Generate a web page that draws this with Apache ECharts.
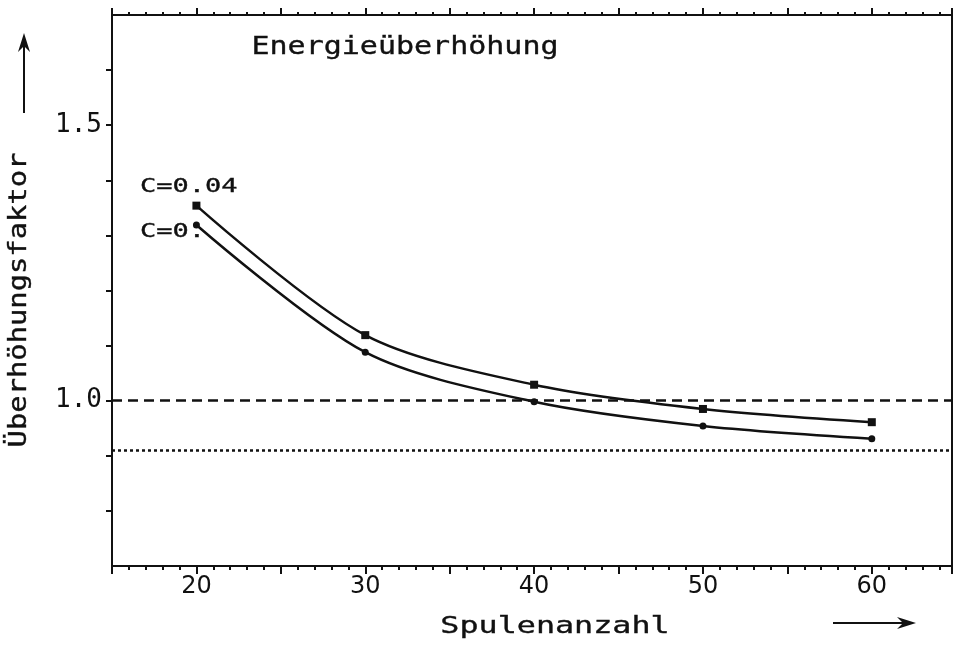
<!DOCTYPE html>
<html>
<head>
<meta charset="utf-8">
<script src="https://cdn.jsdelivr.net/npm/echarts@6/dist/echarts.min.js"></script>
<style>
  html, body { margin: 0; padding: 0; background: #fff; }
  #chart { width: 953px; height: 645px; }
</style>
</head>
<body>
<div id="chart"></div>
<script>
// Spulenanzahl (x) und Überhöhungsfaktor (y)
const spulen = [20, 30, 40, 50, 60]
const faktorC004 = [1.354, 1.119, 1.029, 0.985, 0.961]
const faktorC0 = [1.319, 1.088, 0.998, 0.954, 0.931]
const yLabelTicks = [1.0, 1.5]
const xLabelTicks = [20, 30, 40, 50, 60]
const refDashed = 1.0
const refDotted = 0.905

const chart = echarts.init(document.getElementById('chart'))
const mono = 'DejaVu Sans Mono'
const ink = '#111'

const toPairs = (ys) => spulen.map((x, i) => [x, ys[i]])

const xBase = {
  type: 'value',
  min: 15,
  max: 64.75,
  interval: 5,
  splitLine: { show: false },
  axisLine: { show: true, onZero: false, lineStyle: { color: ink, width: 2 } },
  axisTick: { show: true, inside: false, length: 8, lineStyle: { color: ink, width: 2 } },
  minorTick: { show: true, splitNumber: 5, length: 4, lineStyle: { color: ink, width: 2 } }
}

// Text leicht verstärkt, wie beim Plotter
const txt = (size) => ({ font: size + 'px "DejaVu Sans Mono"', fill: ink, stroke: ink, lineWidth: 0.35 })

const option = {
  animation: false,
  backgroundColor: '#fff',
  grid: { left: 112, right: 1, top: 15, bottom: 79, outerBoundsMode: 'none' },
  xAxis: [
    Object.assign({}, xBase, {
      position: 'bottom',
      axisLabel: {
        show: true,
        margin: 9,
        color: ink,
        fontFamily: 'DejaVu Sans',
        fontSize: 24,
        showMaxLabel: false,
        formatter: (v) => (xLabelTicks.includes(Math.round(v)) && Math.abs(v - Math.round(v)) < 1e-6 ? String(Math.round(v)) : '')
      }
    }),
    Object.assign({}, xBase, {
      position: 'top',
      axisTick: { show: true, inside: false, length: 7, lineStyle: { color: ink, width: 2 } },
      minorTick: { show: true, splitNumber: 5, length: 3, lineStyle: { color: ink, width: 2 } },
      axisLabel: { show: false }
    })
  ],
  yAxis: [
    {
      type: 'value',
      position: 'left',
      min: 0.7,
      max: 1.7,
      interval: 0.1,
      splitLine: { show: false },
      axisLine: { show: true, onZero: false, lineStyle: { color: ink, width: 2 } },
      axisTick: { show: true, inside: false, length: 6, lineStyle: { color: ink, width: 2 } },
      axisLabel: {
        show: true,
        margin: 10,
        color: ink,
        fontFamily: mono,
        fontSize: 26,
        showMinLabel: false,
        showMaxLabel: false,
        formatter: (v) => {
          const hit = yLabelTicks.find((t) => Math.abs(t - v) < 1e-6)
          return hit !== undefined ? hit.toFixed(1) : ''
        }
      }
    },
    {
      type: 'value',
      position: 'right',
      min: 0.7,
      max: 1.7,
      splitLine: { show: false },
      axisLine: { show: true, onZero: false, lineStyle: { color: ink, width: 2 } },
      axisTick: { show: false },
      axisLabel: { show: false }
    }
  ],
  series: [
    {
      name: 'C=0.04',
      type: 'line',
      smooth: 0.3,
      data: toPairs(faktorC004),
      symbol: 'rect',
      symbolSize: 8,
      itemStyle: { color: ink },
      lineStyle: { color: ink, width: 2.5 },
      markLine: {
        silent: true,
        symbol: 'none',
        label: { show: false },
        data: [
          { yAxis: refDashed, lineStyle: { color: ink, width: 2.5, type: [10, 6] } },
          { yAxis: refDotted, lineStyle: { color: ink, width: 2.5, type: [3, 3] } }
        ]
      }
    },
    {
      name: 'C=0.',
      type: 'line',
      smooth: 0.3,
      data: toPairs(faktorC0),
      symbol: 'circle',
      symbolSize: 7,
      itemStyle: { color: ink },
      lineStyle: { color: ink, width: 2.5 }
    }
  ],
  graphic: [
    {
      type: 'text', x: 405, y: 47, scaleX: 1.2,
      style: Object.assign({ text: 'Energieüberhöhung', textAlign: 'center', textVerticalAlign: 'middle' }, txt(25))
    },
    {
      type: 'text', x: 140, y: 187, scaleX: 1.35,
      style: Object.assign({ text: 'C=0.04', textAlign: 'left', textVerticalAlign: 'middle' }, txt(20))
    },
    {
      type: 'text', x: 140, y: 232, scaleX: 1.35,
      style: Object.assign({ text: 'C=0.', textAlign: 'left', textVerticalAlign: 'middle' }, txt(20))
    },
    {
      type: 'text', x: 20, y: 300, rotation: Math.PI / 2, scaleX: 1.2,
      style: Object.assign({ text: 'Überhöhungsfaktor', textAlign: 'center', textVerticalAlign: 'middle' }, txt(24))
    },
    {
      type: 'text', x: 555, y: 627, scaleX: 1.38,
      style: Object.assign({ text: 'Spulenanzahl', textAlign: 'center', textVerticalAlign: 'middle' }, txt(23))
    },
    // Pfeil an der y-Achse
    { type: 'line', shape: { x1: 24, y1: 113, x2: 24, y2: 44 }, style: { stroke: ink, lineWidth: 2 } },
    { type: 'polygon', shape: { points: [[24, 33], [18, 52], [24, 46], [30, 52]] }, style: { fill: ink } },
    // Pfeil an der x-Achse
    { type: 'line', shape: { x1: 833, y1: 623, x2: 904, y2: 623 }, style: { stroke: ink, lineWidth: 2 } },
    { type: 'polygon', shape: { points: [[916, 623], [897, 617], [903, 623], [897, 629]] }, style: { fill: ink } }
  ]
}

chart.setOption(option)
</script>
</body>
</html>
